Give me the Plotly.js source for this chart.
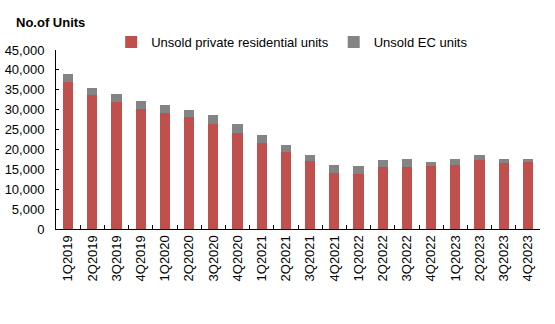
<!DOCTYPE html>
<html>
<head>
<meta charset="utf-8">
<script src="https://cdn.plot.ly/plotly-3.0.1.min.js"></script>
<style>
  html, body { margin: 0; padding: 0; background: #fff; }
  #chart { width: 555px; height: 324px; }
</style>
</head>
<body>
<div id="chart"></div>
<script>
// Quarterly stock of unsold units
const quarters = ['1Q2019', '2Q2019', '3Q2019', '4Q2019', '1Q2020', '2Q2020', '3Q2020', '4Q2020',
  '1Q2021', '2Q2021', '3Q2021', '4Q2021', '1Q2022', '2Q2022', '3Q2022', '4Q2022',
  '1Q2023', '2Q2023', '3Q2023', '4Q2023'];
const privateUnits = [36900, 33600, 32000, 30250, 29150, 28050, 26450, 24250, 21550, 19450,
  17100, 14050, 13900, 15650, 15550, 15900, 16050, 17400, 16600, 16900];
const ecUnits = [1950, 1950, 2050, 2050, 2100, 1950, 2250, 2200, 2200, 1700,
  1500, 2050, 1950, 1700, 2050, 950, 1550, 1200, 1000, 700];
const yTicks = [0, 5000, 10000, 15000, 20000, 25000, 30000, 35000, 40000, 45000];

const font = { family: 'Liberation Sans, Arial, sans-serif', size: 13, color: '#000' };

const traces = [
  {
    type: 'bar', name: 'Unsold private residential units',
    x: quarters, y: privateUnits,
    marker: { color: '#C0504D' }
  },
  {
    type: 'bar', name: 'Unsold EC units',
    x: quarters, y: ecUnits,
    marker: { color: '#848484' }
  }
];

const layout = {
  width: 555, height: 324,
  margin: { l: 56, r: 15, t: 50, b: 95 },
  paper_bgcolor: '#fff', plot_bgcolor: '#fff',
  font: font,
  barmode: 'stack',
  bargap: 0.58,
  showlegend: true,
  title: {
    text: '<b>No.of Units</b>',
    font: { family: font.family, size: 13, color: '#000' },
    xref: 'container', x: 16 / 555, xanchor: 'left',
    yref: 'container', y: 1 - 22 / 324, yanchor: 'middle'
  },
  legend: {
    orientation: 'h',
    x: 0.114, xanchor: 'left',
    y: 1.045, yanchor: 'middle',
    font: font,
    itemwidth: 30,
    bgcolor: 'rgba(0,0,0,0)',
    traceorder: 'normal'
  },
  xaxis: {
    type: 'category',
    tickangle: -90,
    ticks: 'inside', ticklen: 4, tickcolor: '#000',
    tickson: 'boundaries',
    showline: true, linecolor: '#000', linewidth: 1,
    showgrid: false, zeroline: false,
    tickfont: font
  },
  yaxis: {
    range: [0, 45000],
    tickvals: yTicks,
    tickformat: ',',
    ticks: 'inside', ticklen: 3, tickcolor: '#000',
    showline: true, linecolor: '#000', linewidth: 1,
    showgrid: false, zeroline: false,
    ticklabelstandoff: 8,
    tickfont: font
  }
};

Plotly.newPlot('chart', traces, layout, { displayModeBar: false, staticPlot: true });
</script>
</body>
</html>
